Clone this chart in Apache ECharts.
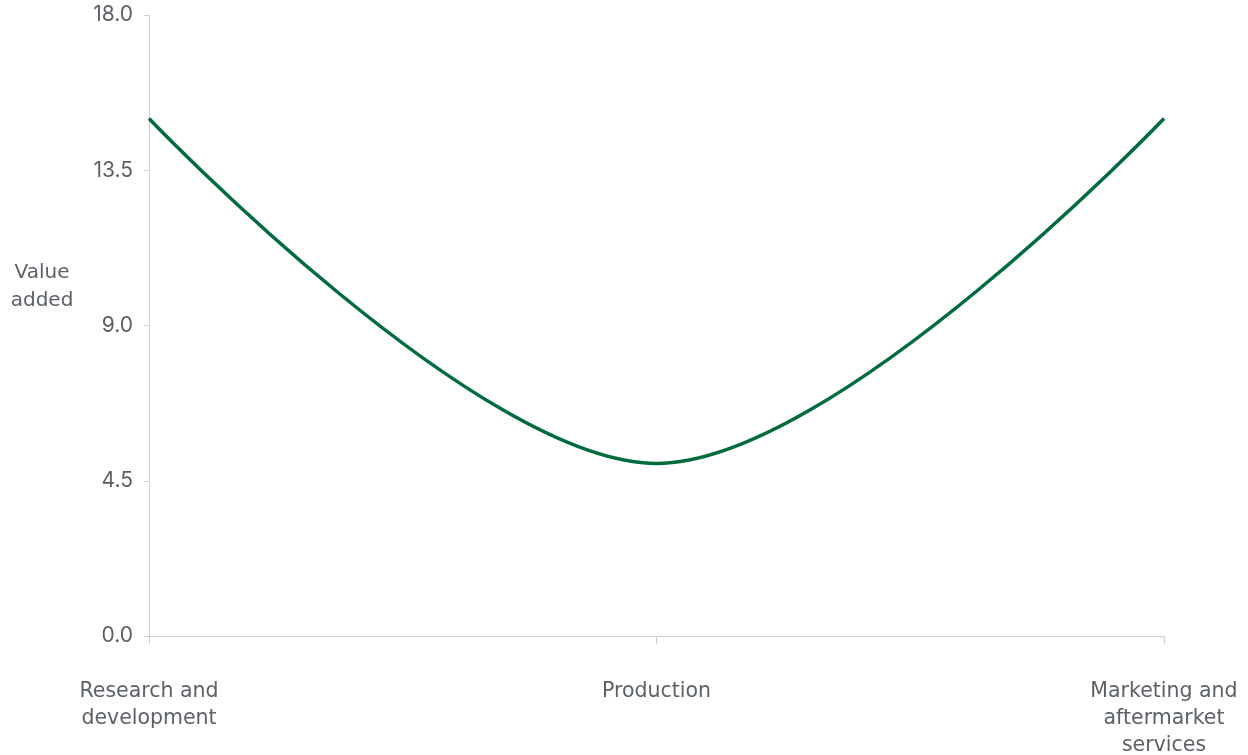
<!DOCTYPE html>
<html>
<head>
<meta charset="utf-8">
<script src="https://cdn.jsdelivr.net/npm/echarts@6/dist/echarts.min.js"></script>
<style>
  html, body { margin: 0; padding: 0; background: #ffffff; }
  #chart { width: 1248px; height: 755px; }
</style>
</head>
<body>
<div id="chart"></div>
<script>
// Value-chain stages along the horizontal axis
const stages = ['Research and\ndevelopment', 'Production', 'Marketing and\naftermarket\nservices'];
// Value added at each stage
const valueAdded = [15, 5, 15];
// Vertical axis range and step
const yMin = 0;
const yMax = 18;
const yStep = 4.5;

const textColor = '#5b6167';
const axisColor = '#c9d3d3';
const wideFont = '"DejaVu Sans", "Noto Sans", sans-serif';
const numberFont = 'Inter, "Noto Sans", sans-serif';

const chart = echarts.init(document.getElementById('chart'), null, { renderer: 'canvas' });
chart.setOption({
  animation: false,
  backgroundColor: '#ffffff',
  grid: { left: 149, right: 84, top: 15, bottom: 119, containLabel: false, outerBoundsMode: 'none' },
  xAxis: {
    type: 'category',
    data: stages,
    boundaryGap: false,
    axisLine: { lineStyle: { color: axisColor, width: 1 } },
    axisTick: { show: true, alignWithLabel: true, length: 8, lineStyle: { color: axisColor } },
    axisLabel: {
      color: textColor, fontFamily: wideFont, fontSize: 20.5, fontWeight: 'normal', lineHeight: 27,
      margin: 42, align: 'center', interval: 0
    },
    splitLine: { show: false }
  },
  yAxis: {
    type: 'value',
    min: yMin,
    max: yMax,
    interval: yStep,
    axisLine: { show: true, lineStyle: { color: axisColor, width: 1 } },
    axisTick: { show: true, length: 5, lineStyle: { color: axisColor } },
    axisLabel: {
      color: textColor, fontFamily: numberFont, fontSize: 21, fontWeight: 'normal', margin: 16,
      formatter: v => v.toFixed(1)
    },
    splitLine: { show: false }
  },
  graphic: [{
    type: 'text',
    x: 42,
    y: 259,
    style: {
      text: 'Value\nadded',
      fill: textColor,
      fontFamily: wideFont,
      fontSize: 20,
      fontWeight: 'normal',
      lineHeight: 28,
      align: 'center'
    }
  }],
  series: [{
    type: 'line',
    data: valueAdded,
    smooth: 0.35,
    symbol: 'none',
    lineStyle: { color: '#006b3c', width: 3.5 }
  }]
});
</script>
</body>
</html>
